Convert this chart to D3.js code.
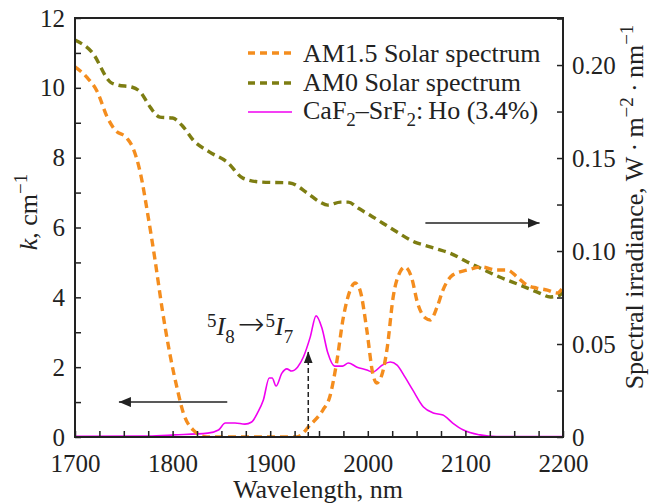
<!DOCTYPE html>
<html>
<head>
<meta charset="utf-8">
<script src="https://cdn.jsdelivr.net/npm/d3@7"></script>
<style>
  html, body { margin: 0; padding: 0; background: #fff; }
  svg { display: block; }
  text { font-family: "Liberation Serif", "Times New Roman", serif; fill: #222; }
</style>
</head>
<body>
<svg id="chart" width="656" height="504"></svg>
<script>
// ---- data ----
const am15Wl  = [1700,1712,1723,1733,1741,1753,1759,1767,1775,1782,1789,1797,1805,1811,1821,1835,1880,1927,1941,1954,1961,1968,1975,1982,1987,1992,1999,2005,2009,2015,2020,2026,2033,2038,2045,2051,2059,2064,2071,2077,2087,2102,2117,2132,2143,2153,2163,2173,2184,2194,2200];
const am15Val = [0.199,0.1935,0.1855,0.172,0.1651,0.1608,0.1559,0.1419,0.1183,0.0952,0.0699,0.0452,0.0253,0.0129,0.0038,0,0,0,0.0065,0.0145,0.0215,0.0398,0.0645,0.079,0.0828,0.079,0.0575,0.0344,0.029,0.0344,0.0484,0.0753,0.0887,0.0914,0.0855,0.072,0.064,0.0629,0.0699,0.079,0.0871,0.0898,0.0914,0.0898,0.0898,0.086,0.0817,0.0801,0.079,0.0774,0.0806];

const am0Wl  = [1700,1718,1736,1744,1758,1767,1777,1787,1800,1811,1821,1838,1856,1872,1890,1920,1938,1951,1959,1972,1980,1990,2002,2015,2030,2048,2061,2071,2084,2102,2115,2135,2156,2176,2187,2197,2200];
const am0Val = [0.2134,0.2065,0.1909,0.1892,0.1882,0.1855,0.1774,0.172,0.1715,0.1667,0.1597,0.1532,0.1478,0.1392,0.1371,0.1366,0.1312,0.1263,0.1247,0.1263,0.1263,0.1231,0.1194,0.1151,0.1102,0.1048,0.1027,0.1011,0.0989,0.0941,0.0909,0.086,0.0817,0.0774,0.0753,0.0763,0.0785];

const hoWl = [1700,1775,1802,1836,1847,1854,1864,1874,1881,1887,1893,1899,1902,1906,1912,1917,1922,1928,1934,1941,1947,1953,1959,1966,1974,1980,1989,1999,2005,2015,2023,2030,2038,2046,2057,2067,2077,2087,2098,2115,2132,2200];
const hoK  = [0.02,0.03,0.06,0.11,0.2,0.4,0.4,0.37,0.43,0.69,1.06,1.69,1.69,1.46,1.83,1.95,1.89,2.0,2.29,2.86,3.47,3.12,2.41,2.03,2.03,2.12,2.0,1.92,1.86,2.06,2.15,2.06,1.72,1.35,0.86,0.69,0.63,0.4,0.2,0.06,0.01,0.01];

const xMajorTicks = [1700,1800,1900,2000,2100,2200];
const kTicks = [0,2,4,6,8,10,12];
const irrTicks = [0,0.05,0.10,0.15,0.20];
const irrTickLabels = ["0","0.05","0.10","0.15","0.20"];
const transitionWl = 1939;
const seriesNames = ["AM1.5 Solar spectrum","AM0 Solar spectrum","CaF2–SrF2: Ho (3.4%)"];

// ---- layout ----
const L = 75, R = 563, T = 18, B = 437;
const svg = d3.select("#chart");
const x = d3.scaleLinear().domain([1700,2200]).range([L,R]);
const yK = d3.scaleLinear().domain([0,12]).range([B,T]);
const yI = d3.scaleLinear().domain([0,0.2253]).range([B,T]);

const orange = "#f48d1e", olive = "#7d7d12", magenta = "#f000f0", ink = "#222";

const defs = svg.append("defs");
defs.append("clipPath").attr("id","clip")
  .append("rect").attr("x",L).attr("y",T).attr("width",R-L).attr("height",B-T);
defs.append("marker").attr("id","ah").attr("viewBox","0 0 12 10").attr("refX",12).attr("refY",5)
  .attr("markerWidth",12).attr("markerHeight",10).attr("markerUnits","userSpaceOnUse").attr("orient","auto")
  .append("path").attr("d","M0,0 L12,5 L0,10 Z").attr("fill",ink);
defs.append("marker").attr("id","ah2").attr("viewBox","0 0 12 9").attr("refX",12).attr("refY",4.5)
  .attr("markerWidth",12).attr("markerHeight",9).attr("markerUnits","userSpaceOnUse").attr("orient","auto")
  .append("path").attr("d","M0,0 L12,4.5 L0,9 Z").attr("fill",ink);

const plot = svg.append("g").attr("clip-path","url(#clip)");

const lineI = d3.line().x(d=>x(d[0])).y(d=>yI(d[1])).curve(d3.curveMonotoneX);
const lineK = d3.line().x(d=>x(d[0])).y(d=>yK(d[1])).curve(d3.curveMonotoneX);

plot.append("path").datum(d3.zip(hoWl,hoK)).attr("d",lineK)
  .attr("fill","none").attr("stroke",magenta).attr("stroke-width",1.6);
plot.append("path").datum(d3.zip(am0Wl,am0Val)).attr("d",lineI)
  .attr("fill","none").attr("stroke",olive).attr("stroke-width",3.4).attr("stroke-dasharray","8,5");
plot.append("path").datum(d3.zip(am15Wl,am15Val)).attr("d",lineI)
  .attr("fill","none").attr("stroke",orange).attr("stroke-width",3.4).attr("stroke-dasharray","8,5");

// ---- axes ----
const fs = "26px", fsTick = "25px", fsSmall = "19px";
function styleAxis(g){ g.select(".domain").remove(); g.selectAll("line").attr("stroke",ink).attr("stroke-width",1.5); g.selectAll("text").style("font-size",fsTick).attr("fill",ink); }

svg.append("g").attr("transform",`translate(0,${B})`)
  .call(d3.axisBottom(x).tickValues(d3.range(1700,2201,25)).tickSize(-6).tickFormat(""))
  .call(styleAxis);
svg.append("g").attr("transform",`translate(0,${B})`)
  .call(d3.axisBottom(x).tickValues(xMajorTicks).tickSize(0).tickPadding(17).tickFormat(d3.format("d")))
  .call(styleAxis);

svg.append("g").attr("transform",`translate(${L},0)`)
  .call(d3.axisLeft(yK).tickValues(d3.range(0,12.01,1)).tickSize(-6).tickFormat(""))
  .call(styleAxis);
svg.append("g").attr("transform",`translate(${L},0)`)
  .call(d3.axisLeft(yK).tickValues(kTicks).tickSize(0).tickPadding(10).tickFormat(d3.format("d")))
  .call(styleAxis);

svg.append("g").attr("transform",`translate(${R},0)`)
  .call(d3.axisRight(yI).tickValues(d3.range(0,0.2251,0.025)).tickSize(-6).tickFormat(""))
  .call(styleAxis);
svg.append("g").attr("transform",`translate(${R},0)`)
  .call(d3.axisRight(yI).tickValues(irrTicks).tickSize(0).tickPadding(9).tickFormat((d,i)=>irrTickLabels[i]))
  .call(styleAxis);

svg.append("rect").attr("x",L).attr("y",T).attr("width",R-L).attr("height",B-T)
  .attr("fill","none").attr("stroke",ink).attr("stroke-width",2);

// axis titles
svg.append("text").attr("x",318).attr("y",498).attr("text-anchor","middle").style("font-size",fs).text("Wavelength, nm");

const kl = svg.append("text").attr("transform","translate(37,212) rotate(-90)").attr("text-anchor","middle").style("font-size",fs);
kl.append("tspan").attr("font-style","italic").text("k");
kl.append("tspan").text(", cm");
kl.append("tspan").attr("dy",-10).style("font-size",fsSmall).text("−1");

const rl = svg.append("text").attr("transform","translate(643,207) rotate(-90)").attr("text-anchor","middle").style("font-size",fs);
rl.append("tspan").text("Spectral irradiance, W\u2009·\u2009m");
rl.append("tspan").attr("dy",-10).style("font-size",fsSmall).text("−2");
rl.append("tspan").attr("dy",10).text("\u2009·\u2009nm");
rl.append("tspan").attr("dy",-10).style("font-size",fsSmall).text("−1");

// ---- legend ----
const legY = [53,83,112];
const legStyles = [[orange,3.4,"7,5"],[olive,3.4,"7,5"],[magenta,1.6,null]];
seriesNames.forEach((n,i)=>{
  const ln = svg.append("line").attr("x1",248).attr("x2",292).attr("y1",legY[i]).attr("y2",legY[i])
    .attr("stroke",legStyles[i][0]).attr("stroke-width",legStyles[i][1]);
  if (legStyles[i][2]) ln.attr("stroke-dasharray",legStyles[i][2]);
});
svg.append("text").attr("x",303).attr("y",legY[0]+8.5).style("font-size",fs).text(seriesNames[0]);
svg.append("text").attr("x",303).attr("y",legY[1]+7.5).style("font-size",fs).text(seriesNames[1]);
const l3 = svg.append("text").attr("x",303).attr("y",legY[2]+6.5).style("font-size",fs);
l3.append("tspan").text("CaF");
l3.append("tspan").attr("dy",7).style("font-size",fsSmall).text("2");
l3.append("tspan").attr("dy",-7).text("–SrF");
l3.append("tspan").attr("dy",7).style("font-size",fsSmall).text("2");
l3.append("tspan").attr("dy",-7).text(":\u2009Ho (3.4%)");

// ---- arrows ----
svg.append("line").attr("x1",x(1856)).attr("x2",x(1745)).attr("y1",yK(1)).attr("y2",yK(1))
  .attr("stroke",ink).attr("stroke-width",1.5).attr("marker-end","url(#ah)");
svg.append("line").attr("x1",x(2059)).attr("x2",x(2176)).attr("y1",223).attr("y2",223)
  .attr("stroke",ink).attr("stroke-width",1.5).attr("marker-end","url(#ah)");
svg.append("line").attr("x1",x(transitionWl)).attr("x2",x(transitionWl)).attr("y1",B).attr("y2",yK(2.45))
  .attr("stroke",ink).attr("stroke-width",1.5).attr("stroke-dasharray","5,3").attr("marker-end","url(#ah2)");

// ---- transition label ----
const tl = svg.append("text").attr("x",207).attr("y",335).style("font-size",fs);
tl.append("tspan").attr("dy",-8).style("font-size",fsSmall).text("5");
tl.append("tspan").attr("dy",8).attr("font-style","italic").text("I");
tl.append("tspan").attr("dy",8).style("font-size",fsSmall).text("8");
tl.append("tspan").attr("dy",-8).attr("dx",3).style("font-family","'DejaVu Sans'").style("font-size","32px").style("font-weight","300").text("→");
tl.append("tspan").attr("dy",-8).attr("dx",1).style("font-size",fsSmall).text("5");
tl.append("tspan").attr("dy",8).attr("font-style","italic").text("I");
tl.append("tspan").attr("dy",8).style("font-size",fsSmall).text("7");
</script>
</body>
</html>
